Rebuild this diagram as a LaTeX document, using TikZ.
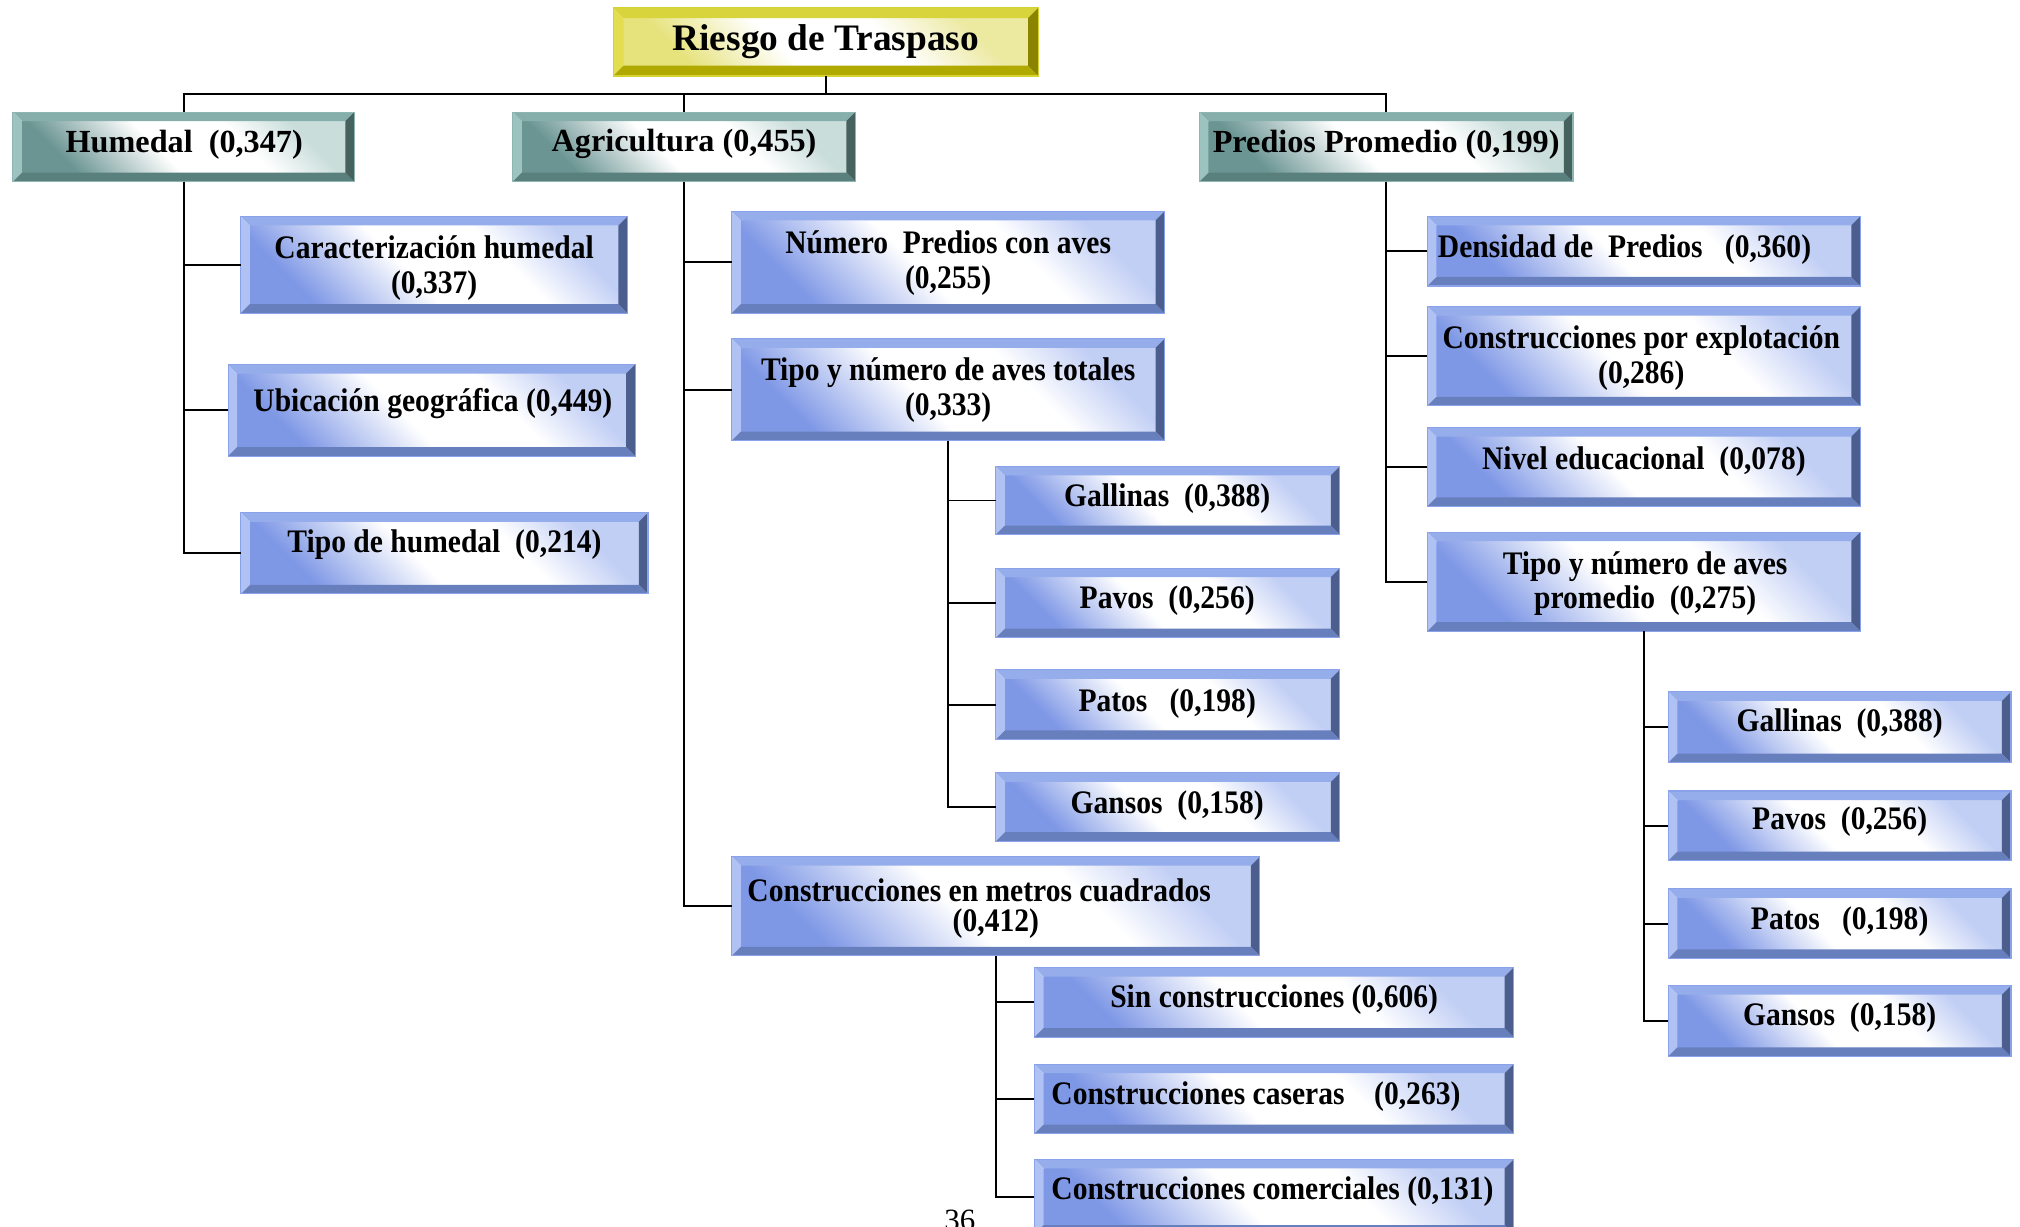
\documentclass[tikz,border=0pt]{standalone}
\usepackage{fontspec}
\setmainfont{Liberation Serif}
\newfontfamily\condserif{Liberation Serif}[FakeStretch=0.9]
\usetikzlibrary{fit}

% blue boxes
\definecolor{blutop}{HTML}{96ADEB}
\definecolor{bluleft}{HTML}{AFC2F3}
\definecolor{blubot}{HTML}{687FBE}
\definecolor{bluright}{HTML}{4B5E8E}
\definecolor{bluedge}{HTML}{8AA2EA}
\definecolor{blufaceA}{HTML}{7F98E6}
\definecolor{blufaceB}{HTML}{C2CFF5}
% teal boxes
\definecolor{teatop}{HTML}{86AFAC}
\definecolor{tealeft}{HTML}{9CC3C0}
\definecolor{teabot}{HTML}{5A807E}
\definecolor{tearight}{HTML}{45625F}
\definecolor{teaedge}{HTML}{8DB5B2}
\definecolor{teafaceA}{HTML}{6A9593}
\definecolor{teafaceB}{HTML}{C9DDDB}
% yellow box
\definecolor{yeltop}{HTML}{D8D43C}
\definecolor{yelleft}{HTML}{E2DE50}
\definecolor{yelbot}{HTML}{B0AA00}
\definecolor{yelright}{HTML}{8A8400}
\definecolor{yeledge}{HTML}{D6D230}
\definecolor{yelfaceA}{HTML}{E6E27C}
\definecolor{yelfaceB}{HTML}{ECE9A0}

% face gradients: tinted lower-left corner, white middle, lighter tint upper-right
\pgfdeclarehorizontalshading{blushade}{100bp}{color(0bp)=(blufaceA); color(25bp)=(blufaceA);
  color(45bp)=(white); color(62bp)=(white); color(75bp)=(blufaceB); color(100bp)=(blufaceB)}
\pgfdeclarehorizontalshading{teashade}{100bp}{color(0bp)=(teafaceA); color(25bp)=(teafaceA);
  color(45bp)=(white); color(62bp)=(white); color(75bp)=(teafaceB); color(100bp)=(teafaceB)}
\pgfdeclarehorizontalshading{yelshade}{100bp}{color(0bp)=(yelfaceA); color(25bp)=(yelfaceA);
  color(42bp)=(white); color(60bp)=(white); color(75bp)=(yelfaceB); color(100bp)=(yelfaceB)}

% bevelled box: name, x0, y0, x1, y1, palette, bevel depth
\newcommand\bevelbox[7]{%
  \coordinate (#1-nw) at (#2,#3);
  \coordinate (#1-se) at (#4,#5);
  \node[fit=(#1-nw)(#1-se), inner sep=0pt, outer sep=0pt] (#1) {};
  \shade[shading=#6shade, shading angle=45]
    ({#2+#7},{#3+#7}) rectangle ({#4-#7},{#5-#7});
  \fill[#6top] (#2,#3) -- (#4,#3) -- ({#4-#7},{#3+#7}) -- ({#2+#7},{#3+#7}) -- cycle;
  \fill[#6left] (#2,#3) -- ({#2+#7},{#3+#7}) -- ({#2+#7},{#5-#7}) -- (#2,#5) -- cycle;
  \fill[#6bot] (#2,#5) -- ({#2+#7},{#5-#7}) -- ({#4-#7},{#5-#7}) -- (#4,#5) -- cycle;
  \fill[#6right] (#4,#3) -- (#4,#5) -- ({#4-#7},{#5-#7}) -- ({#4-#7},{#3+#7}) -- cycle;
  \draw[#6edge, line width=0.8pt] (#2,#3) rectangle (#4,#5);
}

\tikzset{
  conn/.style={draw=black, line width=1.5pt},
  lbl/.style={inner sep=0pt, align=center, text=black,
    font=\condserif\bfseries\fontsize{25.5}{27}\selectfont},
  lblone/.style={inner sep=0pt, text=black,
    font=\bfseries\fontsize{25}{28}\selectfont},
  lblroot/.style={inner sep=0pt, text=black,
    font=\bfseries\fontsize{29}{32}\selectfont},
  pagenum/.style={inner sep=0pt, text=black,
    font=\fontsize{24}{26}\selectfont},
}

\begin{document}
\begin{tikzpicture}[x=1pt, y=-1pt]
\useasboundingbox (0,0) rectangle (1568,952);
\fill[white] (0,0) rectangle (1568,952);

% boxes
\bevelbox{root}{476}{6}{806}{59}{yel}{8}
\bevelbox{hum}{10}{87}{275}{141}{tea}{7}
\bevelbox{agr}{398}{87}{664}{141}{tea}{7}
\bevelbox{pred}{931}{87}{1221}{141}{tea}{7}

\bevelbox{hca}{187}{168}{487}{243}{blu}{7}
\bevelbox{hub}{177}{283}{493}{354}{blu}{7}
\bevelbox{hti}{187}{398}{503}{461}{blu}{7}

\bevelbox{anp}{568}{164}{904}{243}{blu}{7}
\bevelbox{ata}{568}{263}{904}{342}{blu}{7}
\bevelbox{ag1}{773}{362}{1040}{415}{blu}{7}
\bevelbox{ag2}{773}{441}{1040}{495}{blu}{7}
\bevelbox{ag3}{773}{520}{1040}{574}{blu}{7}
\bevelbox{ag4}{773}{600}{1040}{653}{blu}{7}
\bevelbox{acm}{568}{665}{978}{742}{blu}{7}
\bevelbox{ac1}{803}{751}{1175}{805}{blu}{7}
\bevelbox{ac2}{803}{826}{1175}{880}{blu}{7}
\bevelbox{ac3}{803}{900}{1175}{958}{blu}{7}

\bevelbox{pde}{1108}{168}{1444}{222}{blu}{7}
\bevelbox{pco}{1108}{238}{1444}{315}{blu}{7}
\bevelbox{pni}{1108}{332}{1444}{393}{blu}{7}
\bevelbox{pta}{1108}{413}{1444}{490}{blu}{7}
\bevelbox{pg1}{1295}{537}{1561}{592}{blu}{7}
\bevelbox{pg2}{1295}{614}{1561}{668}{blu}{7}
\bevelbox{pg3}{1295}{690}{1561}{744}{blu}{7}
\bevelbox{pg4}{1295}{765}{1561}{820}{blu}{7}

% labels
\node[lblroot] (t-root) at (641,32) {Riesgo de Traspaso};
\node[lblone] (t-hum) at (143,112) {Humedal\ \ (0,347)};
\node[lblone] (t-agr) at (531,112) {Agricultura (0,455)};
\node[lblone] (t-pred) at (1076,112) {Predios Promedio (0,199)};

\node[lbl] (t-hca) at (337,208) {Caracterización humedal\\(0,337)};
\node[lbl] (t-hub) at (336,313) {Ubicación geográfica (0,449)};
\node[lbl] (t-hti) at (345,423) {Tipo de humedal\ \ (0,214)};

\node[lbl] (t-anp) at (736,204) {Número\ \ Predios con aves\\(0,255)};
\node[lbl] (t-ata) at (736,303) {Tipo y número de aves totales\\(0,333)};
\node[lbl] (t-ag1) at (906,387) {Gallinas\ \ (0,388)};
\node[lbl] (t-ag2) at (906,466) {Pavos\ \ (0,256)};
\node[lbl] (t-ag3) at (906,546) {Patos\ \ \ (0,198)};
\node[lbl] (t-ag4) at (906,625) {Gansos\ \ (0,158)};
\node[lbl, anchor=west] (t-acm) at (580,691) {Construcciones en metros cuadrados};
\node[lbl] (t-acmv) at (773,717) {(0,412)};
\node[lbl] (t-ac1) at (989,776) {Sin construcciones (0,606)};
\node[lbl, anchor=west] (t-ac2) at (816,851) {Construcciones caseras\ \ \ \ (0,263)};
\node[lbl, anchor=west] (t-ac3) at (816,925) {Construcciones comerciales (0,131)};

\node[lbl, anchor=west] (t-pde) at (1116,194) {Densidad de\ \ Predios\ \ \ (0,360)};
\node[lbl] (t-pco) at (1274,278) {Construcciones por explotación\\(0,286)};
\node[lbl] (t-pni) at (1276,358) {Nivel educacional\ \ (0,078)};
\node[lbl] (t-pta) at (1277,453) {Tipo y número de aves\\promedio\ \ (0,275)};
\node[lbl] (t-pg1) at (1428,562) {Gallinas\ \ (0,388)};
\node[lbl] (t-pg2) at (1428,638) {Pavos\ \ (0,256)};
\node[lbl] (t-pg3) at (1428,715) {Patos\ \ \ (0,198)};
\node[lbl] (t-pg4) at (1428,790) {Gansos\ \ (0,158)};

\node[pagenum] (page) at (745,947) {36};

% connectors
\coordinate (bus) at (0,73);
\draw[conn] (root.south) -- (root.south |- bus);
\draw[conn] (hum.north) |- (pred.north |- bus) -- (pred.north);
\draw[conn] (agr.north) -- (agr.north |- bus);

\foreach \p/\c in {hum/hca, hum/hub, hum/hti,
                   agr/anp, agr/ata, agr/acm,
                   ata/ag1, ata/ag2, ata/ag3, ata/ag4,
                   acm/ac1, acm/ac2, acm/ac3,
                   pred/pde, pred/pco, pred/pni, pred/pta,
                   pta/pg1, pta/pg2, pta/pg3, pta/pg4}
  \draw[conn] (\p.south) |- (\c.west);
\end{tikzpicture}
\end{document}
